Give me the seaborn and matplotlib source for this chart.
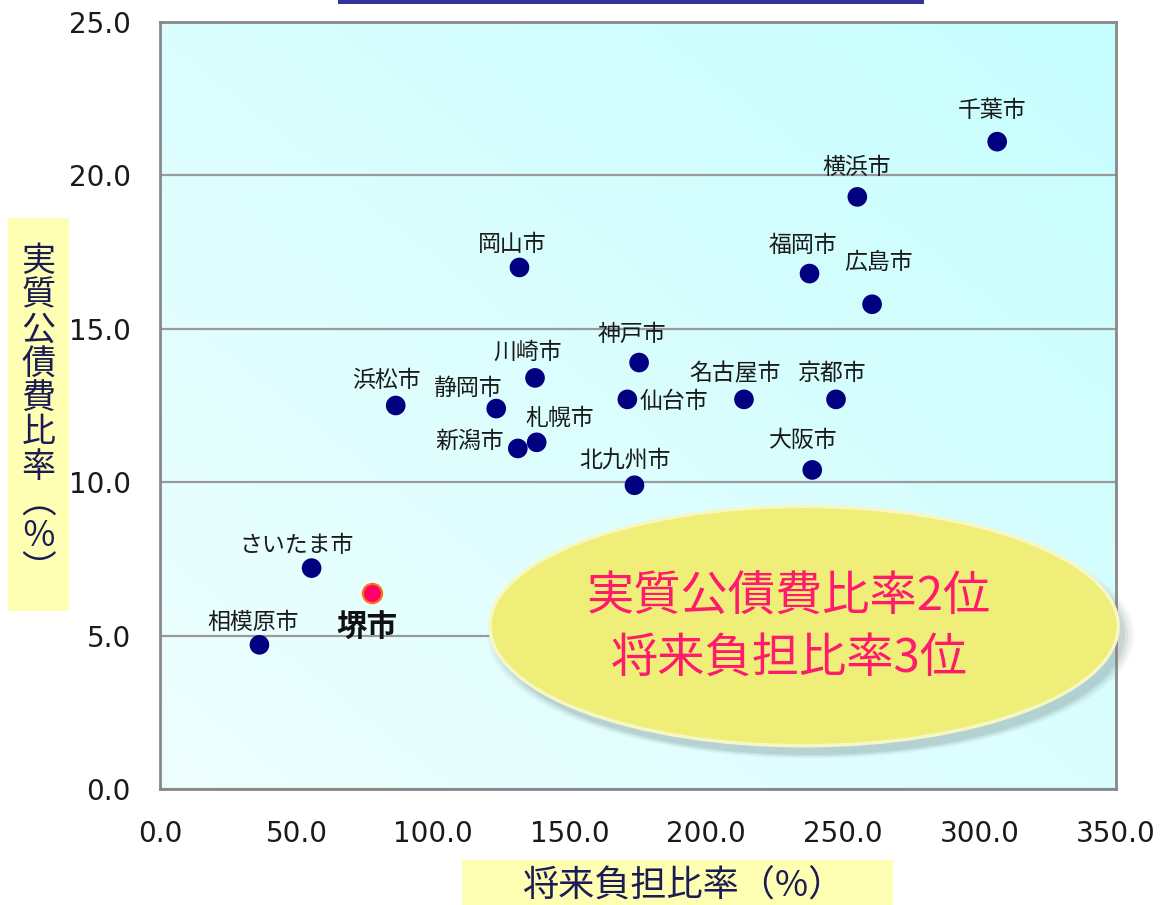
import numpy as np
import pandas as pd
import matplotlib
matplotlib.use("Agg")
import matplotlib.pyplot as plt
import seaborn as sns
from matplotlib.patches import Ellipse, Rectangle
from matplotlib.colors import LinearSegmentedColormap

# ---- data: 将来負担比率 (x) と 実質公債費比率 (y) ----
cities = ["千葉市", "横浜市", "福岡市", "広島市", "岡山市", "神戸市", "川崎市",
          "名古屋市", "京都市", "仙台市", "浜松市", "静岡市", "札幌市", "新潟市",
          "北九州市", "大阪市", "さいたま市", "相模原市", "堺市"]
future_burden = [306.5, 255.3, 237.8, 260.7, 131.6, 175.4, 137.3,
                 213.8, 247.5, 171.1, 86.3, 123.1, 137.9, 131.0,
                 173.7, 238.8, 55.5, 36.4, 77.7]
debt_service = [21.1, 19.3, 16.8, 15.8, 17.0, 13.9, 13.4,
                12.7, 12.7, 12.7, 12.5, 12.4, 11.3, 11.1,
                9.9, 10.4, 7.2, 4.7, 6.4]
highlight_city = "堺市"
x_ticks = [0, 50, 100, 150, 200, 250, 300, 350]
y_ticks = [0, 5, 10, 15, 20, 25]
callout_lines = ["実質公債費比率2位", "将来負担比率3位"]

# label placement relative to each marker (pixels: right, up)
label_offset = {
    "千葉市": (-5, 31), "横浜市": (-1, 29), "福岡市": (-7, 28), "広島市": (6, 42),
    "岡山市": (-7, 23), "神戸市": (-7, 28), "川崎市": (-7, 26), "名古屋市": (-9, 26),
    "京都市": (-4, 26), "仙台市": (46, -2), "浜松市": (-9, 25), "静岡市": (-29, 20),
    "札幌市": (23, 24), "新潟市": (-48, 7), "北九州市": (-9, 25), "大阪市": (-9, 29),
    "さいたま市": (-15, 23), "相模原市": (-6, 22), "堺市": (-5, -34),
}

df = pd.DataFrame({"city": cities, "x": future_burden, "y": debt_service})

sns.set_style("white")
plt.rcParams["font.family"] = ["Noto Sans CJK JP", "DejaVu Sans"]

W, H = 1160, 905
fig = plt.figure(figsize=(W / 100, H / 100), dpi=100)
ax = fig.add_axes([160 / W, (H - 789) / H, (1116 - 160) / W, (789 - 22) / H])

# soft cyan gradient behind the plot area
grad_cmap = LinearSegmentedColormap.from_list("bg", ["#EFFFFF", "#C6FDFD"])
gx, gy = np.meshgrid(np.linspace(0, 1, 200), np.linspace(0, 1, 200))
ax.imshow((gx + gy) / 2, cmap=grad_cmap, extent=[0, 1, 0, 1], origin="lower",
          transform=ax.transAxes, aspect="auto", zorder=0)

ax.set_xlim(0, 350)
ax.set_ylim(0, 25)
ax.set_xticks(x_ticks)
ax.set_yticks(y_ticks)
ax.set_xticklabels([f"{v:.1f}" for v in x_ticks], family="DejaVu Sans", fontsize=20, color="#1a1a1a")
ax.set_yticklabels([f"{v:.1f}" for v in y_ticks], family="DejaVu Sans", fontsize=20, color="#1a1a1a")
ax.tick_params(axis="x", direction="in", length=6, width=1.5, color="#888888", pad=22)
ax.tick_params(axis="y", length=0, pad=21)
ax.yaxis.grid(True, color="#9a9a9a", linewidth=1.6, zorder=1)
ax.xaxis.grid(False)
ax.set_axisbelow(True)
for side in ["left", "right", "top", "bottom"]:
    ax.spines[side].set_visible(True)
    ax.spines[side].set_color("#888888")
    ax.spines[side].set_linewidth(2)

# callout ellipse with drop shadow toward the lower right
ecx, ecy, ew, eh = 235.8, 5.31, 230, 7.8
for i, a in enumerate([0.05, 0.07, 0.09, 0.12]):
    grow = 1.0 + 0.01 * (3 - i)
    ax.add_patch(Ellipse((ecx + 2.5, ecy - 0.3), ew * grow, eh * grow,
                         facecolor="#587070", alpha=a, edgecolor="none",
                         zorder=2, clip_on=False))
ax.add_patch(Ellipse((ecx, ecy), ew, eh, facecolor="#EEEE78",
                     edgecolor="#F7F7C4", linewidth=2.5, zorder=3, clip_on=False))
ax.text(230.2, 6.26, callout_lines[0], ha="center", va="center", fontsize=34,
        color="#FF1A6C", zorder=4)
ax.text(230.2, 4.27, callout_lines[1], ha="center", va="center", fontsize=34,
        color="#FF1A6C", zorder=4)

# markers
others = df[df["city"] != highlight_city]
hl = df[df["city"] == highlight_city]
sns.scatterplot(data=others, x="x", y="y", ax=ax, color="#000080", s=200,
                edgecolor="none", zorder=5, legend=False)
sns.scatterplot(data=hl, x="x", y="y", ax=ax, color="#FF0066", s=190,
                edgecolor="#FF7010", linewidth=1.6, zorder=5, legend=False)
ax.set_xlabel("")
ax.set_ylabel("")

# city labels
for name, xv, yv in zip(cities, future_burden, debt_service):
    dx, dy = label_offset[name]
    if name == highlight_city:
        ax.annotate(name, (xv, yv), xytext=(dx, dy), textcoords="offset pixels",
                    ha="center", va="center", fontsize=22, fontweight="bold",
                    color="#111111", zorder=6)
    else:
        ax.annotate(name, (xv, yv), xytext=(dx, dy), textcoords="offset pixels",
                    ha="center", va="center", fontsize=16.5, color="#1a1a1a", zorder=6)

# title bar edge along the top
fig.patches.append(Rectangle((338 / W, (H - 4) / H), (924 - 338) / W, 4 / H,
                             transform=fig.transFigure, facecolor="#333399",
                             edgecolor="none"))

# y-axis title: yellow box with vertically stacked characters
fig.patches.append(Rectangle((8 / W, (H - 611) / H), (69 - 8) / W, (611 - 218) / H,
                             transform=fig.transFigure, facecolor="#FFFFB4",
                             edgecolor="none"))
label_color = "#1c1c55"
ytitle = "実質公債費比率"
for i, ch in enumerate(ytitle):
    ypx = 262 + i * 34.2
    fig.text(38.5 / W, (H - ypx) / H, ch, ha="center", va="center",
             fontsize=24.5, color=label_color)
# vertical-form brackets around the percent sign, set as one block
fig.text(38.5 / W, (H - 537) / H, "\ufe35\n％\n\ufe36", ha="center", va="center",
         fontsize=25, color=label_color, linespacing=0.95, multialignment="center")

# x-axis title: yellow box
fig.patches.append(Rectangle((462 / W, 0), (893 - 462) / W, (H - 860) / H,
                             transform=fig.transFigure, facecolor="#FFFFB4",
                             edgecolor="none"))
fig.text(683 / W, (H - 887) / H, "将来負担比率（%）", ha="center", va="center",
         fontsize=26, color=label_color)

fig.savefig("out.png", dpi=100)
